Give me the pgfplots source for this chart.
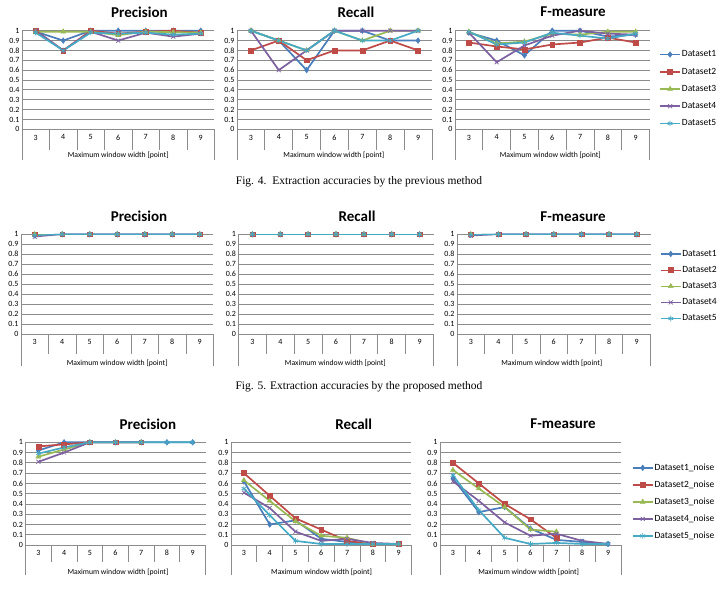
\documentclass[border=0pt]{standalone}
\usepackage{fontspec}
\setmainfont{Carlito}
\newfontfamily\capfont{Liberation Serif}
\usepackage{pgfplots}
\pgfplotsset{compat=1.18}
\definecolor{c1}{HTML}{4A7EBB}
\definecolor{c2}{HTML}{BE4B48}
\definecolor{c3}{HTML}{98B954}
\definecolor{c4}{HTML}{7D60A0}
\definecolor{c5}{HTML}{46AAC5}
\definecolor{gridc}{HTML}{8C8C8C}
\pgfplotsset{
  exc/.style={
    scale only axis,
    xmin=-0.5, xmax=6.5, ymin=0, ymax=1,
    xtick={0,1,2,3,4,5,6}, xticklabels={3,4,5,6,7,8,9},
    ytick={0,0.1,0.2,0.3,0.4,0.5,0.6,0.7,0.8,0.9,1},
    yticklabels={0,0.1,0.2,0.3,0.4,0.5,0.6,0.7,0.8,0.9,1},
    /pgf/number format/assume math mode=true,
    axis x line=bottom, axis y line=left,
    axis line style={-, draw=gridc, line width=0.8pt},
    ymajorgrids, grid style={draw=gridc, line width=0.8pt},
    major tick length=0pt, tick style={draw=none},
    tick label style={font=\fontsize{8}{9.5}\selectfont},
    yticklabel style={xshift=1pt},
    xticklabel style={yshift=-2pt},
    title style={font=\bfseries\fontsize{15}{17}\selectfont, anchor=center, yshift=-6pt},
    xlabel style={font=\fontsize{7.7}{9}\selectfont, anchor=center},
    clip=false,
    legend cell align=left,
    legend image code/.code={\draw[mark repeat=2, mark phase=2] plot coordinates {(0pt,0pt) (10pt,0pt) (20pt,0pt)};},
  },
  seps/.style 2 args={after end axis/.code={
    \foreach \k in {0.5,1.5,2.5,3.5,4.5,5.5}{\draw[gridc, line width=0.8pt] (axis cs:\k,0) -- ++(0pt,-#1);}
    \draw[gridc, line width=0.8pt] (axis cs:-0.5,0) -- ++(0pt,-#2);
    \draw[gridc, line width=0.8pt] (axis cs:6.5,0) -- ++(0pt,-#2);
  }},
  s1/.style={c1, line width=#1, mark=diamond*, mark size=2.8pt, mark options={fill=c1, solid, line width=0.5pt}},
  s1/.default=1.7pt,
  s2/.style={c2, line width=#1, mark=square*, mark size=2.4pt, mark options={fill=c2, solid, line width=0.5pt}},
  s2/.default=1.7pt,
  s3/.style={c3, line width=#1, mark=triangle*, mark size=2.8pt, mark options={fill=c3, solid, line width=0.5pt}},
  s3/.default=1.7pt,
  s4/.style={c4, line width=#1, mark=x, mark size=2.8pt, mark options={solid, line width=0.7pt}},
  s4/.default=1.7pt,
  s5/.style={c5, line width=#1, mark=asterisk, mark size=2.8pt, mark options={solid, line width=0.7pt}},
  s5/.default=1.7pt,
}
\begin{document}
\begin{tikzpicture}
\useasboundingbox (0pt,0pt) rectangle (717pt,589pt);
\node[font=\capfont\fontsize{11.5}{13}\selectfont] at (359pt,407pt) {Fig. 4.\ \ Extraction accuracies by the previous method};
\node[font=\capfont\fontsize{11.5}{13}\selectfont] at (359pt,202pt) {Fig. 5. Extraction accuracies by the proposed method};

% ---------------- Row 1 ----------------
\begin{axis}[exc, seps={21pt}{31pt}, at={(22pt,459.7pt)}, anchor=south west,
  width=192.5pt, height=98.6pt, title={Precision},
  title style={at={(axis description cs:0.61,1.19)}},
  xlabel={Maximum window width [point]},
  xlabel style={at={(axis description cs:0.5,-0.26)}}]
\addplot[s1] coordinates {(0,0.99)(1,0.90)(2,1.00)(3,1.00)(4,1.00)(5,1.00)(6,1.00)};
\addplot[s2] coordinates {(0,1.00)(1,0.80)(2,1.00)(3,0.97)(4,0.99)(5,1.00)(6,0.98)};
\addplot[s3] coordinates {(0,0.99)(1,0.99)(2,0.99)(3,0.955)(4,0.99)(5,0.985)(6,0.98)};
\addplot[s4] coordinates {(0,1.00)(1,0.80)(2,0.99)(3,0.90)(4,0.98)(5,0.94)(6,0.97)};
\addplot[s5] coordinates {(0,0.98)(1,0.80)(2,0.98)(3,0.97)(4,0.98)(5,0.96)(6,0.97)};
\end{axis}

\begin{axis}[exc, seps={21pt}{31pt}, at={(237pt,459.7pt)}, anchor=south west,
  width=195pt, height=98.6pt, title={Recall},
  title style={at={(axis description cs:0.61,1.19)}},
  xlabel={Maximum window width [point]},
  xlabel style={at={(axis description cs:0.497,-0.26)}}]
\addplot[s1] coordinates {(0,1.0)(1,0.9)(2,0.6)(3,1.0)(4,1.0)(5,0.9)(6,0.9)};
\addplot[s2] coordinates {(0,0.8)(1,0.9)(2,0.7)(3,0.8)(4,0.8)(5,0.9)(6,0.8)};
\addplot[s3] coordinates {(0,1.0)(1,0.9)(2,0.8)(3,1.0)(4,0.9)(5,1.0)(6,1.0)};
\addplot[s4] coordinates {(0,1.0)(1,0.6)(2,0.8)(3,1.0)(4,1.0)(5,1.0)(6,1.0)};
\addplot[s5] coordinates {(0,1.0)(1,0.9)(2,0.8)(3,1.0)(4,0.9)(5,0.9)(6,1.0)};
\end{axis}

\begin{axis}[exc, seps={21pt}{31pt}, at={(455pt,459.7pt)}, anchor=south west,
  width=194.5pt, height=98.6pt, title={F-measure},
  title style={at={(axis description cs:0.607,1.19)}},
  xlabel={Maximum window width [point]},
  xlabel style={at={(axis description cs:0.49,-0.26)}},
  legend style={at={(axis description cs:1.049,0.409)}, anchor=west, draw=none, fill=none,
    inner sep=0pt, font=\fontsize{9.5}{11}\selectfont, row sep=7.6pt, nodes={inner sep=1pt}}]
\addplot[s1] coordinates {(0,0.98)(1,0.90)(2,0.75)(3,1.00)(4,1.00)(5,0.94)(6,0.96)};
\addlegendentry{Dataset1}
\addplot[s2] coordinates {(0,0.88)(1,0.84)(2,0.81)(3,0.86)(4,0.88)(5,0.93)(6,0.88)};
\addlegendentry{Dataset2}
\addplot[s3] coordinates {(0,0.99)(1,0.87)(2,0.89)(3,0.97)(4,0.96)(5,0.99)(6,0.99)};
\addlegendentry{Dataset3}
\addplot[s4] coordinates {(0,0.98)(1,0.68)(2,0.85)(3,0.95)(4,1.00)(5,0.97)(6,0.96)};
\addlegendentry{Dataset4}
\addplot[s5] coordinates {(0,0.99)(1,0.86)(2,0.88)(3,0.98)(4,0.95)(5,0.92)(6,0.97)};
\addlegendentry{Dataset5}
\end{axis}

% ---------------- Row 2 ----------------
\begin{axis}[exc, seps={20pt}{32pt}, at={(21pt,255pt)}, anchor=south west,
  width=192.5pt, height=99.7pt, title={Precision},
  title style={at={(axis description cs:0.613,1.177)}},
  xlabel={Maximum window width [point]},
  xlabel style={at={(axis description cs:0.5,-0.29)}}]
\addplot[s1=1.2pt] coordinates {(0,0.99)(1,1)(2,1)(3,1)(4,1)(5,1)(6,1)};
\addplot[s2=1.2pt] coordinates {(0,1)(1,1)(2,1)(3,1)(4,1)(5,1)(6,1)};
\addplot[s3=1.2pt] coordinates {(0,1)(1,1)(2,1)(3,1)(4,1)(5,1)(6,1)};
\addplot[s4=1.2pt] coordinates {(0,0.975)(1,1)(2,1)(3,1)(4,1)(5,1)(6,1)};
\addplot[s5=1.2pt] coordinates {(0,0.99)(1,1)(2,1)(3,1)(4,1)(5,1)(6,1)};
\end{axis}

\begin{axis}[exc, seps={20pt}{32pt}, at={(238.5pt,255pt)}, anchor=south west,
  width=195pt, height=99.7pt, title={Recall},
  title style={at={(axis description cs:0.608,1.177)}},
  xlabel={Maximum window width [point]},
  xlabel style={at={(axis description cs:0.497,-0.29)}}]
\addplot[s1=1.2pt] coordinates {(0,1)(1,1)(2,1)(3,1)(4,1)(5,1)(6,1)};
\addplot[s2=1.2pt] coordinates {(0,1)(1,1)(2,1)(3,1)(4,1)(5,1)(6,1)};
\addplot[s3=1.2pt] coordinates {(0,1)(1,1)(2,1)(3,1)(4,1)(5,1)(6,1)};
\addplot[s4=1.2pt] coordinates {(0,1)(1,1)(2,1)(3,1)(4,1)(5,1)(6,1)};
\addplot[s5=1.2pt] coordinates {(0,1)(1,1)(2,1)(3,1)(4,1)(5,1)(6,1)};
\end{axis}

\begin{axis}[exc, seps={20pt}{32pt}, at={(457pt,255pt)}, anchor=south west,
  width=193.5pt, height=99.7pt, title={F-measure},
  title style={at={(axis description cs:0.6,1.177)}},
  xlabel={Maximum window width [point]},
  xlabel style={at={(axis description cs:0.49,-0.29)}},
  legend style={at={(axis description cs:1.049,0.479)}, anchor=west, draw=none, fill=none,
    inner sep=0pt, font=\fontsize{9.5}{11}\selectfont, row sep=6.5pt, nodes={inner sep=1pt}}]
\addplot[s1=1.2pt] coordinates {(0,0.995)(1,1)(2,1)(3,1)(4,1)(5,1)(6,1)};
\addlegendentry{Dataset1}
\addplot[s2=1.2pt] coordinates {(0,1)(1,1)(2,1)(3,1)(4,1)(5,1)(6,1)};
\addlegendentry{Dataset2}
\addplot[s3=1.2pt] coordinates {(0,1)(1,1)(2,1)(3,1)(4,1)(5,1)(6,1)};
\addlegendentry{Dataset3}
\addplot[s4=1.2pt] coordinates {(0,0.985)(1,1)(2,1)(3,1)(4,1)(5,1)(6,1)};
\addlegendentry{Dataset4}
\addplot[s5=1.2pt] coordinates {(0,0.995)(1,1)(2,1)(3,1)(4,1)(5,1)(6,1)};
\addlegendentry{Dataset5}
\end{axis}

% ---------------- Row 3 ----------------
\begin{axis}[exc, seps={17pt}{30pt}, at={(25.5pt,44pt)}, anchor=south west,
  width=180pt, height=102.7pt, title={Precision},
  title style={at={(axis description cs:0.68,1.178)}},
  xlabel={Maximum window width [point]},
  xlabel style={at={(axis description cs:0.514,-0.263)}}]
\addplot[s1] coordinates {(0,0.92)(1,1)(2,1)(3,1)(4,1)(5,1)(6,1)};
\addplot[s2] coordinates {(0,0.96)(1,0.98)(2,1)(3,1)(4,1)};
\addplot[s3] coordinates {(0,0.86)(1,0.93)(2,1)(3,1)(4,1)};
\addplot[s4] coordinates {(0,0.81)(1,0.90)(2,1)(3,1)(4,1)};
\addplot[s5] coordinates {(0,0.89)(1,0.95)(2,1)(3,1)(4,1)(5,1)(6,1)};
\end{axis}

\begin{axis}[exc, seps={17pt}{30pt}, at={(231pt,44pt)}, anchor=south west,
  width=180.5pt, height=102.7pt, title={Recall},
  title style={at={(axis description cs:0.68,1.178)}},
  xlabel={Maximum window width [point]},
  xlabel style={at={(axis description cs:0.502,-0.263)}}]
\addplot[s1] coordinates {(0,0.62)(1,0.20)(2,0.24)(3,0.06)(4,0.03)(5,0.01)(6,0.01)};
\addplot[s2] coordinates {(0,0.70)(1,0.48)(2,0.26)(3,0.15)(4,0.04)(5,0.01)(6,0.01)};
\addplot[s3] coordinates {(0,0.63)(1,0.43)(2,0.23)(3,0.09)(4,0.07)(5,0.01)(6,0.01)};
\addplot[s4] coordinates {(0,0.51)(1,0.36)(2,0.13)(3,0.04)(4,0.06)(5,0.02)(6,0.01)};
\addplot[s5] coordinates {(0,0.55)(1,0.29)(2,0.04)(3,0.01)(4,0.01)(5,0.01)(6,0.01)};
\end{axis}

\begin{axis}[exc, seps={17pt}{30pt}, at={(440pt,44pt)}, anchor=south west,
  width=181pt, height=102.7pt, title={F-measure},
  title style={at={(axis description cs:0.68,1.178)}},
  xlabel={Maximum window width [point]},
  xlabel style={at={(axis description cs:0.49,-0.263)}},
  legend style={at={(axis description cs:1.059,0.42)}, anchor=west, draw=none, fill=none,
    inner sep=0pt, font=\fontsize{9.5}{11}\selectfont, row sep=7pt, nodes={inner sep=1pt}}]
\addplot[s1] coordinates {(0,0.65)(1,0.32)(2,0.37)(3,0.16)(4,0.05)(5,0.03)(6,0.01)};
\addlegendentry{Dataset1\_noise}
\addplot[s2] coordinates {(0,0.80)(1,0.60)(2,0.40)(3,0.25)(4,0.07)};
\addlegendentry{Dataset2\_noise}
\addplot[s3] coordinates {(0,0.73)(1,0.55)(2,0.37)(3,0.15)(4,0.13)};
\addlegendentry{Dataset3\_noise}
\addplot[s4] coordinates {(0,0.62)(1,0.43)(2,0.22)(3,0.09)(4,0.11)(5,0.04)(6,0.01)};
\addlegendentry{Dataset4\_noise}
\addplot[s5] coordinates {(0,0.68)(1,0.34)(2,0.07)(3,0.01)(4,0.02)(5,0.01)(6,0.01)};
\addlegendentry{Dataset5\_noise}
\end{axis}
\end{tikzpicture}
\end{document}
